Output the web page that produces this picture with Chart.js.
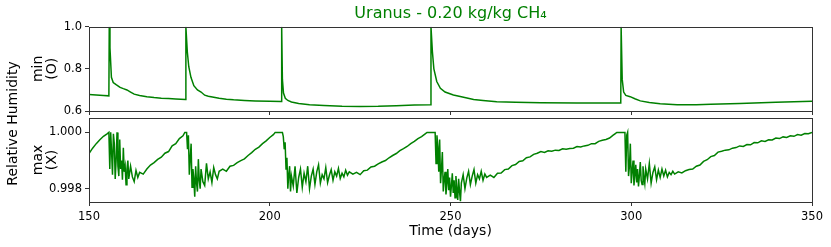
<!DOCTYPE html>
<html>
<head>
<meta charset="utf-8">
<script src="https://cdn.jsdelivr.net/npm/chart.js@4.4.0/dist/chart.umd.min.js"></script>
<style>
  html, body { margin: 0; padding: 0; background: #fff; }
  #wrap { position: relative; width: 831px; height: 247px; }
  #wrap canvas { position: absolute; left: 0; top: 0; }
</style>
</head>
<body>
<div id="wrap">
  <canvas id="maxChart" width="831" height="247"></canvas>
  <canvas id="minChart" width="831" height="117"></canvas>
</div>
<script>
// Data
const dayTicks = [150, 200, 250, 300, 350];
const minTicks = [0.6, 0.8, 1.0];
const maxTicks = [0.998, 1.000];

// top panel: minimum relative humidity
const minDays = [
  150, 152, 154, 155.5, 155.6, 155.8, 156.2, 156.7, 157.5, 158.3,
  158.6, 159.5, 160.5, 161.5, 162.5, 164, 166, 168, 170, 172,
  174, 176.7, 176.8, 177.2, 177.6, 178.2, 179, 180, 181, 182,
  183, 184.5, 186, 188, 190, 193, 196, 200, 203.2, 203.3,
  203.5, 203.8, 204.3, 205, 206, 208, 211, 215, 220, 225,
  230, 235, 240, 244.5, 244.6, 245, 245.4, 246.2, 247.2, 248.5,
  250.8, 253, 256.4, 259, 262.8, 268, 275, 285, 297.1, 297.2,
  297.5, 297.9, 298.5, 299.7, 301, 302.5, 305, 308, 312.7, 318,
  322, 330, 340, 350
];
const minRH = [
  0.678, 0.676, 0.674, 0.672, 1.0, 0.90, 0.76, 0.735, 0.725, 0.716,
  0.712, 0.706, 0.70, 0.69, 0.68, 0.674, 0.668, 0.664, 0.661, 0.659,
  0.657, 0.655, 1.0, 0.88, 0.81, 0.76, 0.72, 0.70, 0.69, 0.675,
  0.67, 0.665, 0.66, 0.656, 0.653, 0.65, 0.648, 0.646, 0.645, 1.0,
  0.75, 0.685, 0.66, 0.65, 0.643, 0.636, 0.63, 0.626, 0.622, 0.621,
  0.622, 0.625, 0.628, 0.630, 1.0, 0.88, 0.80, 0.74, 0.708, 0.69,
  0.676, 0.668, 0.655, 0.65, 0.644, 0.641, 0.639, 0.638, 0.638, 1.0,
  0.75, 0.69, 0.674, 0.668, 0.658, 0.648, 0.64, 0.634, 0.630, 0.630,
  0.632, 0.636, 0.641, 0.646
];

// bottom panel: maximum relative humidity
const maxDays = [
  150, 151, 152, 153, 154, 155, 155.5, 155.75, 156, 156.25,
  156.5, 156.75, 157, 157.25, 157.5, 157.75, 158, 158.25, 158.5, 158.75,
  159, 159.25, 159.5, 159.75, 160, 160.25, 160.5, 160.75, 161, 161.5,
  162, 162.5, 163, 163.5, 164, 165, 166, 167, 168, 169,
  170, 171, 172, 173, 174, 175, 176, 176.5, 177, 177.25,
  177.5, 177.75, 178, 178.25, 178.5, 178.75, 179, 179.25, 179.5, 179.75,
  180, 180.25, 180.5, 180.75, 181, 181.5, 182, 182.5, 183, 183.5,
  184, 184.5, 185, 185.5, 186, 187, 188, 189, 190, 191,
  192, 193, 194, 195, 196, 197, 198, 199, 200, 201,
  201.5, 203.5, 203.75, 204, 204.25, 204.5, 204.75, 205, 205.25, 205.5,
  205.75, 206, 206.5, 207, 207.5, 208, 208.5, 209, 209.5, 210,
  210.5, 211, 211.5, 212, 212.5, 213, 213.5, 214, 214.5, 215,
  215.5, 216, 216.5, 217, 217.5, 218, 218.5, 219, 219.5, 220,
  220.5, 221, 221.5, 222, 223, 224, 225, 226, 227, 228,
  229, 230, 231, 232, 233, 234, 235, 236, 237, 238,
  239, 240, 241, 242, 243, 243.5, 245.75, 246, 246.25, 246.5,
  246.75, 247, 247.25, 247.5, 247.75, 248, 248.25, 248.5, 248.75, 249,
  249.25, 249.5, 249.75, 250, 250.25, 250.5, 250.75, 251, 251.25, 251.5,
  251.75, 252, 252.25, 252.5, 252.75, 253, 253.5, 254, 254.5, 255,
  255.5, 256, 256.5, 257, 257.5, 258, 258.5, 259, 259.5, 260,
  261, 262, 263, 264, 265, 266, 267, 268, 269, 270,
  271, 272, 273, 274, 275, 276, 277, 278, 279, 280,
  281, 282, 283, 284, 285, 286, 287, 288, 289, 290,
  291, 292, 293, 294, 295, 295.5, 296, 298.25, 298.5, 298.75,
  299, 299.25, 299.5, 299.75, 300, 300.25, 300.5, 300.75, 301, 301.25,
  301.5, 301.75, 302, 302.25, 302.5, 302.75, 303, 303.25, 303.5, 303.75,
  304, 304.5, 305, 305.5, 306, 306.5, 307, 307.5, 308, 308.5,
  309, 309.5, 310, 310.5, 311, 311.5, 312, 313, 314, 315,
  316, 317, 318, 319, 320, 321, 322, 323, 324, 325,
  326, 327, 328, 329, 330, 331, 332, 333, 334, 335,
  336, 337, 338, 339, 340, 341, 342, 343, 344, 345,
  346, 347, 348, 349, 350
];
const maxRH = [
  0.99925, 0.99944, 0.99960, 0.99974, 0.99986, 0.99995, 1.00000, 0.99870, 1.00000, 0.99930,
  0.99850, 0.99995, 0.99960, 0.99835, 0.99900, 1.00000, 0.99880, 0.99845, 0.99975, 0.99870,
  0.99900, 0.99832, 0.99945, 0.99860, 0.99880, 0.99814, 0.99870, 0.99900, 0.99835, 0.99880,
  0.99842, 0.99825, 0.99865, 0.99840, 0.99858, 0.99852, 0.99870, 0.99884, 0.99893, 0.99904,
  0.99912, 0.99926, 0.99932, 0.99952, 0.99960, 0.99978, 0.99988, 1.00000, 1.00000, 0.99940,
  0.99990, 0.99850, 0.99910, 0.99960, 0.99805, 0.99870, 0.99835, 0.99772, 0.99880, 0.99820,
  0.99790, 0.99905, 0.99830, 0.99800, 0.99870, 0.99825, 0.99812, 0.99890, 0.99835, 0.99860,
  0.99822, 0.99875, 0.99850, 0.99835, 0.99862, 0.99870, 0.99862, 0.99880, 0.99883, 0.99893,
  0.99900, 0.99906, 0.99918, 0.99928, 0.99940, 0.99948, 0.99960, 0.99970, 0.99982, 0.99992,
  1.00000, 1.00000, 0.99985, 0.99940, 0.99965, 0.99870, 0.99910, 0.99800, 0.99850, 0.99880,
  0.99790, 0.99845, 0.99810, 0.99880, 0.99785, 0.99840, 0.99870, 0.99805, 0.99855, 0.99825,
  0.99880, 0.99800, 0.99845, 0.99870, 0.99815, 0.99860, 0.99885, 0.99820, 0.99850, 0.99835,
  0.99875, 0.99822, 0.99848, 0.99868, 0.99830, 0.99860, 0.99845, 0.99872, 0.99836, 0.99855,
  0.99842, 0.99866, 0.99848, 0.99860, 0.99852, 0.99858, 0.99850, 0.99864, 0.99866, 0.99877,
  0.99880, 0.99888, 0.99895, 0.99900, 0.99910, 0.99918, 0.99925, 0.99935, 0.99942, 0.99950,
  0.99960, 0.99968, 0.99978, 0.99985, 0.99995, 1.00000, 1.00000, 0.99890, 0.99990, 0.99950,
  0.99860, 0.99975, 0.99820, 0.99870, 0.99930, 0.99790, 0.99835, 0.99860, 0.99780, 0.99820,
  0.99870, 0.99795, 0.99840, 0.99772, 0.99810, 0.99855, 0.99785, 0.99830, 0.99768, 0.99845,
  0.99800, 0.99760, 0.99835, 0.99790, 0.99756, 0.99820, 0.99850, 0.99800, 0.99838, 0.99862,
  0.99815, 0.99845, 0.99868, 0.99820, 0.99850, 0.99835, 0.99862, 0.99830, 0.99852, 0.99840,
  0.99848, 0.99840, 0.99855, 0.99856, 0.99868, 0.99870, 0.99882, 0.99886, 0.99897, 0.99899,
  0.99910, 0.99913, 0.99922, 0.99926, 0.99932, 0.99929, 0.99935, 0.99933, 0.99937, 0.99936,
  0.99942, 0.99940, 0.99943, 0.99944, 0.99950, 0.99948, 0.99952, 0.99954, 0.99960, 0.99960,
  0.99968, 0.99972, 0.99975, 0.99980, 0.99990, 0.99995, 1.00000, 1.00000, 0.99860, 0.99990,
  1.00000, 0.99845, 0.99880, 0.99960, 0.99820, 0.99865, 0.99900, 0.99812, 0.99850, 0.99885,
  0.99822, 0.99870, 0.99808, 0.99845, 0.99895, 0.99830, 0.99815, 0.99880, 0.99840, 0.99818,
  0.99870, 0.99835, 0.99890, 0.99820, 0.99858, 0.99878, 0.99832, 0.99866, 0.99840, 0.99870,
  0.99845, 0.99866, 0.99842, 0.99858, 0.99850, 0.99862, 0.99852, 0.99860, 0.99856, 0.99864,
  0.99868, 0.99870, 0.99880, 0.99884, 0.99897, 0.99903, 0.99914, 0.99918, 0.99930, 0.99933,
  0.99937, 0.99938, 0.99944, 0.99946, 0.99952, 0.99950, 0.99957, 0.99956, 0.99964, 0.99963,
  0.99970, 0.99968, 0.99974, 0.99973, 0.99980, 0.99978, 0.99984, 0.99982, 0.99988, 0.99986,
  0.99992, 0.99990, 0.99996, 0.99995, 1.00000
];

const GREEN = '#008000';
const AXIS = '#333';
Chart.defaults.font.family = "'DejaVu Sans', sans-serif";
Chart.defaults.color = '#000';

// box around the plot area, like matplotlib spines
const framePlugin = {
  id: 'frame',
  afterDraw(chart) {
    const { ctx, chartArea: a } = chart;
    ctx.save();
    ctx.strokeStyle = AXIS;
    ctx.lineWidth = 1;
    const l = Math.round(a.left) + 0.5, t = Math.round(a.top) + 0.5;
    const r = Math.round(a.right) + 0.5, b = Math.round(a.bottom) + 0.5;
    ctx.strokeRect(l, t, r - l, b - t);
    ctx.restore();
  }
};

// shared y label for both panels
const supLabel = {
  id: 'supLabel',
  afterDraw(chart) {
    const ctx = chart.ctx;
    ctx.save();
    ctx.translate(13, 123.5);
    ctx.rotate(-Math.PI / 2);
    ctx.font = "14px 'DejaVu Sans'";
    ctx.fillStyle = '#000';
    ctx.textAlign = 'center';
    ctx.textBaseline = 'middle';
    ctx.fillText('Relative Humidity', 0, 0);
    ctx.restore();
  }
};

function toPoints(xs, ys) {
  return xs.map((x, i) => ({ x: x, y: ys[i] }));
}

function gridOpts() {
  return { drawOnChartArea: false, drawTicks: true, tickLength: 4, color: AXIS, tickColor: AXIS, lineWidth: 1 };
}

function xAxis(showLabels, height) {
  return {
    type: 'linear', min: 150, max: 350,
    grid: gridOpts(),
    border: { display: false },
    afterBuildTicks: s => { s.ticks = dayTicks.map(v => ({ value: v })); },
    afterFit: s => { s.height = height; s.paddingLeft = 0; s.paddingRight = 0; },
    ticks: { display: showLabels, font: { size: 11.5 }, padding: 4, maxRotation: 0, callback: v => String(v) },
    title: {
      display: showLabels, text: 'Time (days)', font: { size: 14 },
      padding: { top: 0, bottom: 7 }
    }
  };
}

function yAxis(min, max, tickVals, digits, label) {
  return {
    min: min, max: max,
    grid: gridOpts(),
    border: { display: false },
    afterBuildTicks: s => { s.ticks = tickVals.map(v => ({ value: v })); },
    afterFit: s => { s.width = 89; s.paddingTop = 0; s.paddingBottom = 0; },
    ticks: { font: { size: 11.5 }, padding: 3, callback: v => Number(v).toFixed(digits) },
    title: {
      display: true, text: label, font: { size: 14, lineHeight: 1.05 },
      padding: { top: 30.6, bottom: 0 }
    }
  };
}

new Chart(document.getElementById('minChart'), {
  type: 'line',
  data: {
    datasets: [{
      data: toPoints(minDays, minRH),
      borderColor: GREEN,
      borderWidth: 1.5,
      pointRadius: 0,
      tension: 0,
      fill: false
    }]
  },
  options: {
    responsive: false,
    animation: false,
    layout: { padding: { left: 0, right: 19, top: 0, bottom: 0 } },
    plugins: {
      legend: { display: false },
      tooltip: { enabled: false },
      title: {
        display: true,
        text: 'Uranus - 0.20 kg/kg CH\u2084',
        color: GREEN,
        fullSize: false,
        font: { size: 16, weight: 'normal', lineHeight: 1.2 },
        padding: { top: 4, bottom: 3.5 }
      }
    },
    scales: {
      x: xAxis(false, 6),
      y: yAxis(0.6, 1.0, minTicks, 1, ['min', '(O)'])
    }
  },
  plugins: [framePlugin]
});

new Chart(document.getElementById('maxChart'), {
  type: 'line',
  data: {
    datasets: [{
      data: toPoints(maxDays, maxRH),
      borderColor: GREEN,
      borderWidth: 1.5,
      pointRadius: 0,
      tension: 0,
      fill: false
    }]
  },
  options: {
    responsive: false,
    animation: false,
    layout: { padding: { left: 0, right: 19, top: 118, bottom: 0 } },
    plugins: {
      legend: { display: false },
      tooltip: { enabled: false }
    },
    scales: {
      x: xAxis(true, 45),
      y: yAxis(0.99753, 1.00051, maxTicks, 3, ['max', '(X)'])
    }
  },
  plugins: [framePlugin, supLabel]
});
</script>
</body>
</html>
